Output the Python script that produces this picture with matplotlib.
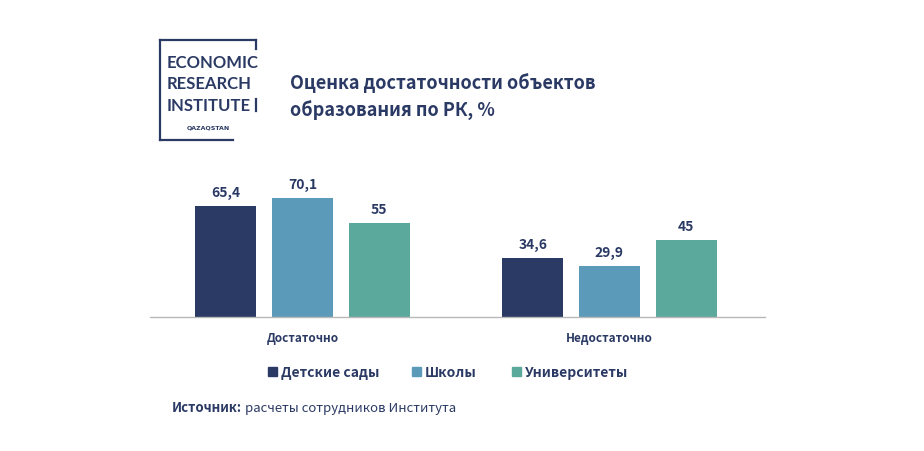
import matplotlib
matplotlib.use('Agg')
import matplotlib.pyplot as plt
from matplotlib.patches import Rectangle
import numpy as np

# data
categories = ['Достаточно', 'Недостаточно']
series_names = ['Детские сады', 'Школы', 'Университеты']
kindergartens = [65.4, 34.6]
schools = [70.1, 29.9]
universities = [55, 45]
colors = ['#2b3a64', '#5b9ab8', '#5ba89c']

TEXT = '#2b3a64'
plt.rcParams['font.family'] = ['Noto Sans CJK SC', 'DejaVu Sans']

W, H = 924, 452
fig = plt.figure(figsize=(W / 100, H / 100), dpi=100)


def fx(px):
    return px / W


def fy(py):
    return 1 - py / H


# chart area (pixel box of the reference)
AX_L, AX_R, AX_B, AX_T = 150, 765, 318, 170
ax = fig.add_axes([fx(AX_L), fy(AX_B), fx(AX_R) - fx(AX_L), fy(AX_T) - fy(AX_B)])
x = np.arange(len(categories))
width = 0.199
step = 0.25
for i, (vals, col) in enumerate(zip([kindergartens, schools, universities], colors)):
    pos = x + (i - 1) * step
    ax.bar(pos, vals, width=width, color=col, linewidth=0)
    for p, v in zip(pos, vals):
        label = ('%g' % v).replace('.', ',')
        ax.text(p, v + 5.9, label, ha='center', va='baseline', fontsize=10,
                weight='bold', color=TEXT)

ax.set_xlim(-0.497, 1.507)
ax.set_ylim(0, 87)
for s in ['top', 'right', 'left']:
    ax.spines[s].set_visible(False)
ax.spines['bottom'].set_color('#b8b8b8')
ax.spines['bottom'].set_linewidth(1)
ax.set_yticks([])
ax.set_xticks(x)
ax.set_xticklabels(categories, fontsize=8.5, weight='bold', color=TEXT)
ax.tick_params(axis='x', length=0, pad=10)

# legend
leg_x = [268, 412, 512]
for lx, name, col in zip(leg_x, series_names, colors):
    fig.patches.append(Rectangle((fx(lx), fy(377)), fx(9), 9 / H, color=col,
                                 transform=fig.transFigure, figure=fig))
    fig.text(fx(lx + 13), fy(377), name, fontsize=10, weight='bold', color=TEXT,
             va='baseline', ha='left')

# source
src1 = fig.text(fx(172), fy(412), 'Источник:', fontsize=9.5, weight='bold',
                color=TEXT, va='baseline', ha='left')
fig.canvas.draw()
bb = src1.get_window_extent()
fig.text(bb.x1 / W + fx(3), fy(412), 'расчеты сотрудников Института', fontsize=9.5,
         color=TEXT, va='baseline', ha='left')

# title
fig.text(fx(290), fy(89), 'Оценка достаточности объектов', fontsize=13,
         weight='bold', color=TEXT, va='baseline', ha='left')
fig.text(fx(290), fy(117), 'образования по РК, %', fontsize=13,
         weight='bold', color=TEXT, va='baseline', ha='left')

# logo frame
lw = 1.6
logo_lines = [
    ([160, 256], [41, 41]),
    ([160, 160], [41, 141]),
    ([160, 233], [141, 141]),
    ([256, 256], [41, 50]),
    ([256, 256], [100, 112]),
]
for xs, ys in logo_lines:
    fig.add_artist(plt.Line2D([fx(v) for v in xs], [fy(v) for v in ys],
                              color=TEXT, linewidth=lw, transform=fig.transFigure))
for word, base in [('ECONOMIC', 68), ('RESEARCH', 89), ('INSTITUTE', 111)]:
    fig.text(fx(167), fy(base), word, fontsize=12, color=TEXT, va='baseline',
             ha='left', family=['Lato', 'DejaVu Sans'], weight='bold')
fig.text(fx(208), fy(130), 'QAZAQSTAN', fontsize=4.5, weight='bold', color=TEXT,
         va='baseline', ha='center', family=['DejaVu Sans'])

fig.savefig('out.png', dpi=100)
